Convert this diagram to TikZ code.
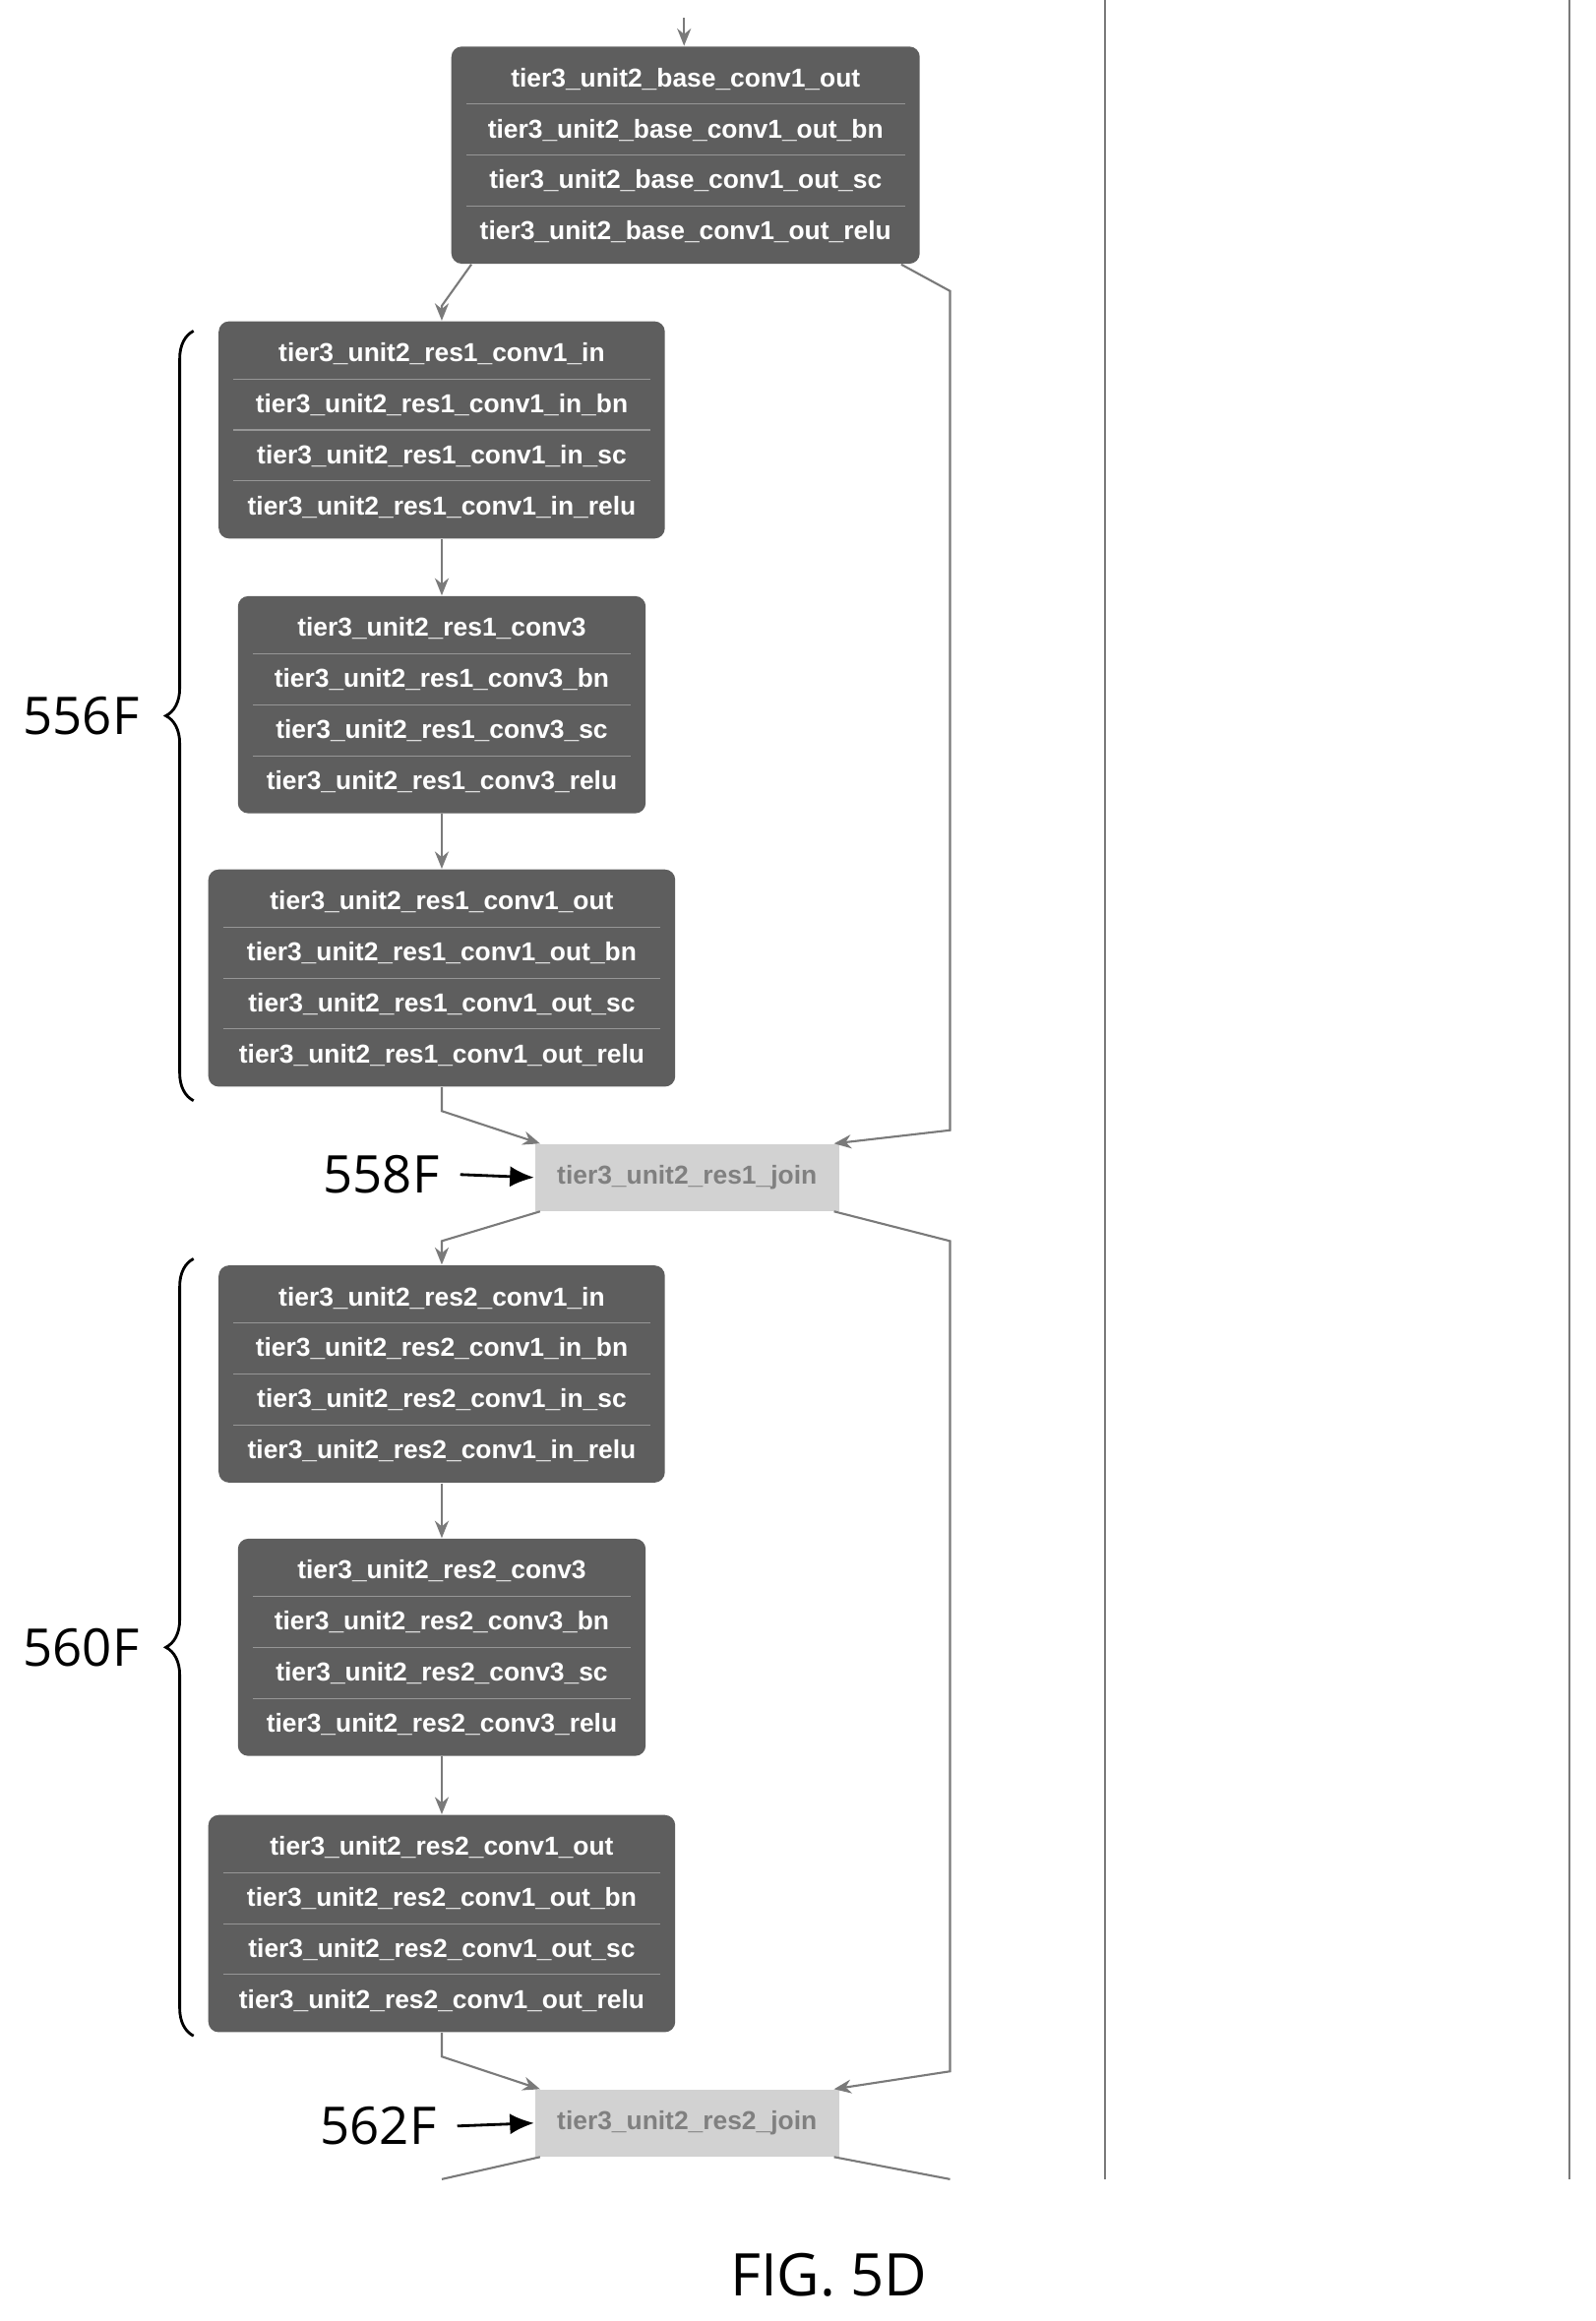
\documentclass[tikz,border=0pt]{standalone}
\usepackage{fontspec}
\setmainfont{Open Sans}
\newfontfamily\boxfont{Liberation Sans}
\usetikzlibrary{arrows.meta,calc,positioning,decorations.pathreplacing}
\definecolor{blkgray}{HTML}{5E5E5E}
\definecolor{joingray}{HTML}{D2D2D2}
\definecolor{wiregray}{HTML}{7A7A7A}
\tikzset{
	blk/.style={draw=none,fill=blkgray,rounded corners=3pt,inner sep=0pt},
	joinblk/.style={draw=none,fill=joingray,inner sep=0pt,minimum width=206*0.015cm,minimum height=45*0.015cm,
		font=\boxfont\fontsize{7.5}{8}\selectfont\bfseries,text=gray},
	row/.style={text=white,font=\boxfont\fontsize{7.5}{8}\selectfont\bfseries,inner sep=0pt},
	edge/.style={draw=wiregray,line width=0.6pt,-{Stealth[length=5pt,width=4pt]}},
	wire/.style={draw=wiregray,line width=0.6pt},
	lbl/.style={font=\fontsize{15}{17}\selectfont},
	callout/.style={draw,line width=0.8pt,-{Latex[length=7pt,width=6pt]}},
	grp/.style={draw,line width=0.8pt,decorate,decoration={brace,amplitude=8pt}}
}
\begin{document}
\begin{tikzpicture}[x=0.015cm,y=-0.015cm]
\useasboundingbox (0,0) rectangle (1080,1571);
% layer blocks with their rows
\foreach \nm/\cx/\cy/\w/\lst in {
	A/464/105/317/{base\_conv1\_out,base\_conv1\_out\_bn,base\_conv1\_out\_sc,base\_conv1\_out\_relu},
	B/299/291/302/{res1\_conv1\_in,res1\_conv1\_in\_bn,res1\_conv1\_in\_sc,res1\_conv1\_in\_relu},
	C/299/477/276/{res1\_conv3,res1\_conv3\_bn,res1\_conv3\_sc,res1\_conv3\_relu},
	D/299/662/316/{res1\_conv1\_out,res1\_conv1\_out\_bn,res1\_conv1\_out\_sc,res1\_conv1\_out\_relu},
	E/299/930/302/{res2\_conv1\_in,res2\_conv1\_in\_bn,res2\_conv1\_in\_sc,res2\_conv1\_in\_relu},
	F/299/1115/276/{res2\_conv3,res2\_conv3\_bn,res2\_conv3\_sc,res2\_conv3\_relu},
	G/299/1302/316/{res2\_conv1\_out,res2\_conv1\_out\_bn,res2\_conv1\_out\_sc,res2\_conv1\_out\_relu}}{
	\node[blk,minimum width=\w*0.015cm,minimum height=147*0.015cm] (\nm) at (\cx,\cy) {};
	\foreach \t [count=\k] in \lst {
		\node[row] (\nm r\k) at (\cx,\cy+\k*34.5-86) {tier3\_unit2\_\t};
	}
	\foreach \k in {1,2,3} {
		\draw[white!35!blkgray,line width=0.3pt] (\cx-\w/2+10,\cy+\k*34.5-69) -- (\cx+\w/2-10,\cy+\k*34.5-69);
	}
}
\node[joinblk] (J1) at (465,797) {tier3\_unit2\_res1\_join};
\node[joinblk] (J2) at (465,1437) {tier3\_unit2\_res2\_join};
% connectors
\coordinate (in) at (463,12);
\draw[edge] (in) -- (A.north -| in);
\draw[edge] ($(A.south west)+(14,0)$) -- (299,207) -- (B.north);
\draw[edge] (B) -- (C);
\draw[edge] (C) -- (D);
\draw[edge] (D.south) -- (299,752) -- ($(J1.north west)+(4,0)$);
\draw[edge] ($(A.south east)+(-13,0)$) -- (643,197) -- (643,765) -- ($(J1.north east)+(-4,0)$);
\draw[edge] ($(J1.south west)+(4,0)$) -- (299,840) -- (E.north);
\draw[edge] (E) -- (F);
\draw[edge] (F) -- (G);
\draw[edge] (G.south) -- (299,1392) -- ($(J2.north west)+(4,0)$);
\draw[edge] ($(J1.south east)+(-4,0)$) -- (643,840) -- (643,1402) -- ($(J2.north east)+(-4,0)$);
\draw[wire] ($(J2.south west)+(4,0)$) -- (299,1475);
\draw[wire] ($(J2.south east)+(-4,0)$) -- (643,1475);
% columns on the right
\draw[wire,line width=0.5pt] (748,0) -- (748,1475);
\draw[wire,line width=0.5pt] (1062,0) -- (1062,1475);
% reference labels
\draw[grp] (131,745) -- (131,224) node[midway,left=12pt,lbl] (L556) {556F};
\draw[grp] (131,1378) -- (131,852) node[midway,left=12pt,lbl] (L560) {560F};
\node[lbl] (L558) at (258,795) {558F};
\node[lbl] (L562) at (256,1439) {562F};
\draw[callout] (L558.east) ++(6,0) -- (J1.west);
\draw[callout] (L562.east) ++(6,0) -- (J2.west);
\node[font=\fontsize{17}{20}\selectfont] (fig) at (561,1540) {FIG. 5D};
\end{tikzpicture}
\end{document}
